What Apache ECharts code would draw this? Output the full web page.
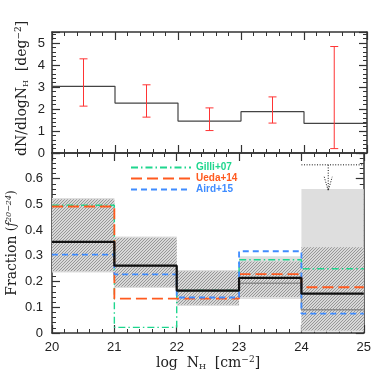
<!DOCTYPE html>
<html><head><meta charset="utf-8">
<script src="https://cdn.jsdelivr.net/npm/echarts@6/dist/echarts.min.js"></script>
<style>html,body{margin:0;padding:0;background:#fff}#c{width:374px;height:374px}</style>
</head><body><div id="c"></div>
<script>
// ---- data ----
const binEdges = [20, 21, 22, 23, 24, 25];
const xTicks = [20, 21, 22, 23, 24, 25];
const dnValues = [3.03, 2.27, 1.45, 1.88, 1.35];
const dnErrX = [20.5, 21.5, 22.5, 23.5, 24.48];
const dnErrLow = [2.13, 1.63, 1.02, 1.36, 0.2];
const dnErrHigh = [4.28, 3.1, 2.05, 2.55, 4.84];
const fracMedian = [0.354, 0.262, 0.165, 0.214, 0.153];
const fracAlt = [0.354, 0.262, 0.165, 0.193, 0.09];
const gilli07 = [0.497, 0.022, 0.165, 0.285, 0.25];
const ueda14 = [0.492, 0.134, 0.134, 0.229, 0.178];
const aird15 = [0.305, 0.228, 0.138, 0.318, 0.075];
const shadeLow = [0.235, 0.175, 0.105, 0.132, 0.005];
const shadeHigh = [0.525, 0.375, 0.245, 0.298, 0.56];
const hatchLow = [0.24, 0.18, 0.11, 0.14, 0.01];
const hatchHigh = [0.52, 0.37, 0.24, 0.278, 0.333];
const upperLimit = [[24, 25, 0.654, 24.43, 0.553]];

const C_GREEN = '#1fd68e', C_ORANGE = '#ff5a1f', C_BLUE = '#3f8cff';
const SERIF = '"DejaVu Serif", "Liberation Serif", serif';
const SANS = '"Liberation Sans", Arial, sans-serif';

function stepData(vals) {
  return binEdges.map((e, i) => [e, vals[Math.min(i, vals.length - 1)]]);
}
function boxData(lo, hi) {
  return lo.map((l, i) => [binEdges[i], binEdges[i + 1], l, hi[i]]);
}

// hatch pattern
const pc = document.createElement('canvas');
pc.width = 3; pc.height = 3;
const g = pc.getContext('2d');
g.fillStyle = '#d8d8d8'; g.fillRect(0, 0, 3, 3);
g.strokeStyle = '#909090'; g.lineWidth = 0.9;
g.beginPath();
g.moveTo(0, 3); g.lineTo(3, 0);
g.moveTo(-1, 1); g.lineTo(1, -1);
g.moveTo(2, 4); g.lineTo(4, 2);
g.stroke();

function axisBase(extra) {
  return Object.assign({
    type: 'value',
    axisLine: { show: true, onZero: false, lineStyle: { color: '#333', width: 1.5 } },
    axisTick: { show: true, inside: true, length: 8, lineStyle: { color: '#333', width: 1.2 } },
    minorTick: { show: true, splitNumber: 5, length: 4, lineStyle: { color: '#333', width: 1 } },
    splitLine: { show: false },
    minorSplitLine: { show: false },
    axisLabel: { show: false }
  }, extra);
}

function boxRender(fill) {
  return function (params, api) {
    const a = api.coord([api.value(0), api.value(3)]);
    const b = api.coord([api.value(1), api.value(2)]);
    return { type: 'rect', shape: { x: a[0], y: a[1], width: b[0] - a[0], height: b[1] - a[1] }, style: { fill: fill } };
  };
}

const chart = echarts.init(document.getElementById('c'), null, { renderer: 'canvas' });
const option = {
  animation: false,
  backgroundColor: '#fff',
  grid: [
    { left: 52, right: 7, top: 32, height: 121 },
    { left: 52, right: 7, top: 153, height: 180 }
  ],
  xAxis: [
    axisBase({ gridIndex: 0, position: 'bottom', min: 20, max: 25, interval: 1 }),
    axisBase({ gridIndex: 0, position: 'top', min: 20, max: 25, interval: 1 }),
    axisBase({ gridIndex: 1, position: 'bottom', min: 20, max: 25, interval: 1,
      axisLabel: { show: true, margin: 8, color: '#222', fontSize: 13, fontFamily: SANS,
        formatter: v => (xTicks.indexOf(v) >= 0 ? String(v) : '') } }),
    axisBase({ gridIndex: 1, position: 'top', min: 20, max: 25, interval: 1 })
  ],
  yAxis: [
    axisBase({ gridIndex: 0, position: 'left', min: 0, max: 5.5, interval: 1,
      axisLabel: { show: true, margin: 7, color: '#222', fontSize: 13, fontFamily: SANS, showMaxLabel: false,
        formatter: v => (Number.isInteger(v) ? String(v) : '') } }),
    axisBase({ gridIndex: 0, position: 'right', min: 0, max: 5.5, interval: 1 }),
    axisBase({ gridIndex: 1, position: 'left', min: 0, max: 0.7, interval: 0.1,
      axisLabel: { show: true, margin: 9, color: '#222', fontSize: 13, fontFamily: SANS, showMaxLabel: false,
        formatter: v => (v === 0 ? '0' : v.toFixed(1)) } }),
    axisBase({ gridIndex: 1, position: 'right', min: 0, max: 0.7, interval: 0.1 })
  ],
  legend: {
    orient: 'vertical', left: 130, top: 162, itemWidth: 60, itemHeight: 11, itemGap: 0, padding: 0,
    itemStyle: { opacity: 0 },
    textStyle: { fontSize: 10, fontWeight: 'bold', fontFamily: SANS, lineHeight: 11 },
    data: [
      { name: 'Gilli+07', textStyle: { color: C_GREEN } },
      { name: 'Ueda+14', textStyle: { color: C_ORANGE } },
      { name: 'Aird+15', textStyle: { color: C_BLUE } }
    ]
  },
  series: [
    { type: 'line', name: 'dN', xAxisIndex: 0, yAxisIndex: 0, data: stepData(dnValues), step: 'end',
      symbol: 'none', lineStyle: { color: '#444', width: 1.2 }, z: 3 },
    { type: 'custom', name: 'err', xAxisIndex: 0, yAxisIndex: 0, silent: true, z: 4,
      data: dnErrX.map((x, i) => [x, dnErrLow[i], dnErrHigh[i]]),
      encode: { x: 0, y: [1, 2] },
      renderItem: (params, api) => {
        const lo = api.coord([api.value(0), api.value(1)]);
        const hi = api.coord([api.value(0), api.value(2)]);
        const st = { stroke: '#ff3434', lineWidth: 1 };
        return { type: 'group', children: [
          { type: 'line', shape: { x1: lo[0], y1: lo[1], x2: hi[0], y2: hi[1] }, style: st },
          { type: 'line', shape: { x1: lo[0] - 4, y1: lo[1], x2: lo[0] + 4, y2: lo[1] }, style: st },
          { type: 'line', shape: { x1: hi[0] - 4, y1: hi[1], x2: hi[0] + 4, y2: hi[1] }, style: st }
        ] };
      } },
    { type: 'custom', name: 'shade', xAxisIndex: 2, yAxisIndex: 2, silent: true, z: 1,
      data: boxData(shadeLow, shadeHigh), encode: { x: [0, 1], y: [2, 3] },
      renderItem: boxRender('#dedede') },
    { type: 'custom', name: 'hatch', xAxisIndex: 2, yAxisIndex: 2, silent: true, z: 2,
      data: boxData(hatchLow, hatchHigh), encode: { x: [0, 1], y: [2, 3] },
      renderItem: boxRender({ image: pc, repeat: 'repeat' }) },
    { type: 'custom', name: 'limit', xAxisIndex: 2, yAxisIndex: 2, silent: true, z: 6,
      data: upperLimit, encode: { x: [0, 1], y: [2, 4] },
      renderItem: (params, api) => {
        const l = api.coord([api.value(0), api.value(2)]);
        const r = api.coord([api.value(1), api.value(2)]);
        const top = api.coord([api.value(3), api.value(2)]);
        const tip = api.coord([api.value(3), api.value(4)]);
        const st = { stroke: '#111', lineWidth: 1, lineDash: [1, 1.6], fill: null };
        return { type: 'group', children: [
          { type: 'line', shape: { x1: l[0], y1: l[1], x2: r[0], y2: r[1] }, style: st },
          { type: 'line', shape: { x1: top[0], y1: top[1], x2: tip[0], y2: tip[1] }, style: st },
          { type: 'polyline', shape: { points: [[tip[0] - 4, tip[1] - 14], [tip[0], tip[1]], [tip[0] + 4, tip[1] - 14]] }, style: st }
        ] };
      } },
    { type: 'line', name: 'alt', xAxisIndex: 2, yAxisIndex: 2, data: stepData(fracAlt), step: 'end',
      symbol: 'none', lineStyle: { color: '#8a8a8a', width: 1.5 }, z: 3 },
    { type: 'line', name: 'Gilli+07', xAxisIndex: 2, yAxisIndex: 2, data: stepData(gilli07), step: 'end',
      symbol: 'none', itemStyle: { color: C_GREEN }, lineStyle: { color: C_GREEN, width: 1.4, type: [7, 3, 1.5, 3] }, z: 4 },
    { type: 'line', name: 'Ueda+14', xAxisIndex: 2, yAxisIndex: 2, data: stepData(ueda14), step: 'end',
      symbol: 'none', itemStyle: { color: C_ORANGE }, lineStyle: { color: C_ORANGE, width: 1.8, type: [11, 5] }, z: 4 },
    { type: 'line', name: 'Aird+15', xAxisIndex: 2, yAxisIndex: 2, data: stepData(aird15), step: 'end',
      symbol: 'none', itemStyle: { color: C_BLUE }, lineStyle: { color: C_BLUE, width: 1.8, type: [6, 4] }, z: 4 },
    { type: 'line', name: 'median', xAxisIndex: 2, yAxisIndex: 2, data: stepData(fracMedian), step: 'end',
      symbol: 'none', lineStyle: { color: '#111', width: 2.2 }, z: 5 }
  ],
  graphic: [
    { type: 'text', x: 22, y: 118, rotation: Math.PI / 2, style: {
      text: '{t|dN/dlogN}{s|H}', align: 'center', verticalAlign: 'middle', fill: '#222',
      rich: { t: { fontFamily: SERIF, fontSize: 14, fill: '#222' }, s: { fontFamily: SERIF, fontSize: 8, fill: '#222', padding: [7, 0, 0, 0] } } } },
    { type: 'text', x: 22, y: 46, rotation: Math.PI / 2, style: {
      text: '{t|[deg}{p|−2}{t|]}', align: 'center', verticalAlign: 'middle', fill: '#222',
      rich: { t: { fontFamily: SERIF, fontSize: 14, fill: '#222' }, p: { fontFamily: SERIF, fontSize: 9, fill: '#222', padding: [0, 0, 7, 0] } } } },
    { type: 'text', x: 12, y: 243, rotation: Math.PI / 2, style: {
      text: '{t|Fraction }{q|(}{i|f}{p|20−24}{q|)}', align: 'center', verticalAlign: 'middle', fill: '#222',
      rich: {
        t: { fontFamily: SERIF, fontSize: 14, fill: '#222' },
        q: { fontFamily: SERIF, fontSize: 12, fill: '#222' },
        i: { fontFamily: SERIF, fontSize: 12, fontStyle: 'italic', fill: '#222' },
        p: { fontFamily: SERIF, fontSize: 8, fontStyle: 'italic', fill: '#222', padding: [0, 0, 7, 0] } } } },
    { type: 'text', x: 208, y: 363, style: {
      text: '{t|log  N}{s|H}{t|  [cm}{p|−2}{t|]}', align: 'center', verticalAlign: 'middle', fill: '#222',
      rich: { t: { fontFamily: SERIF, fontSize: 14, fill: '#222' }, s: { fontFamily: SERIF, fontSize: 8, fill: '#222', padding: [7, 0, 0, 0] }, p: { fontFamily: SERIF, fontSize: 9, fill: '#222', padding: [0, 0, 7, 0] } } } }
  ]
};
chart.setOption(option);
</script>
</body></html>
